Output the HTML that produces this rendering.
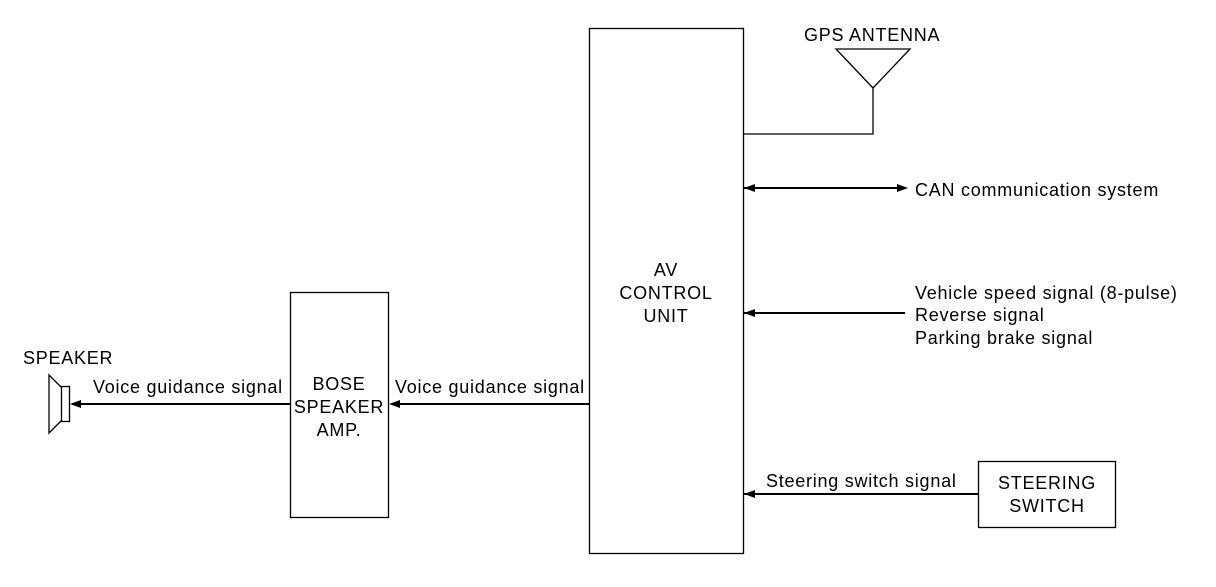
<!DOCTYPE html>
<html><head><style>
body{margin:0;background:#fff}
svg text{font-family:"Liberation Sans",sans-serif;font-size:18px;letter-spacing:0.75px;fill:#000}
</style></head><body>
<svg width="1216" height="582" viewBox="0 0 1216 582" xmlns="http://www.w3.org/2000/svg">
<g fill="none" stroke="#000" stroke-width="1.3">
<rect x="589.5" y="28.5" width="154" height="525"/>
<rect x="290.5" y="292.5" width="98" height="225"/>
<rect x="978.5" y="461.5" width="137" height="66"/>
<polygon points="836,49 910,49 873,88"/>
<polyline points="873,88 873,134 744,134"/>
<rect x="61.5" y="386.5" width="8" height="35"/>
<polyline points="61,387 49,375 49,433 61,421"/>
</g>
<g stroke="#000" stroke-width="2">
<line x1="744" y1="188" x2="900" y2="188"/>
<line x1="744" y1="313" x2="905" y2="313"/>
<line x1="744" y1="494" x2="978" y2="494"/>
<line x1="392" y1="404" x2="589" y2="404"/>
<line x1="72" y1="404" x2="290" y2="404"/>
</g>
<g fill="#000">
<polygon points="744,188 755,184 755,192"/>
<polygon points="908,188 897,184 897,192"/>
<polygon points="744,313 755,309 755,317"/>
<polygon points="744,494 755,490 755,498"/>
<polygon points="389,404 400,400 400,408"/>
<polygon points="70,404 81,400 81,408"/>
</g>
<text x="804" y="41">GPS ANTENNA</text>
<text x="915" y="196">CAN communication system</text>
<text x="666" y="276" text-anchor="middle">AV</text>
<text x="666" y="299" text-anchor="middle">CONTROL</text>
<text x="666" y="322" text-anchor="middle">UNIT</text>
<text x="915" y="299">Vehicle speed signal (8-pulse)</text>
<text x="915" y="321">Reverse signal</text>
<text x="915" y="344">Parking brake signal</text>
<text x="339" y="390" text-anchor="middle">BOSE</text>
<text x="339" y="413" text-anchor="middle">SPEAKER</text>
<text x="339" y="436" text-anchor="middle">AMP.</text>
<text x="395" y="393">Voice guidance signal</text>
<text x="93" y="393">Voice guidance signal</text>
<text x="23" y="364">SPEAKER</text>
<text x="766" y="487">Steering switch signal</text>
<text x="1047" y="489" text-anchor="middle">STEERING</text>
<text x="1047" y="512" text-anchor="middle">SWITCH</text>
</svg>
</body></html>
